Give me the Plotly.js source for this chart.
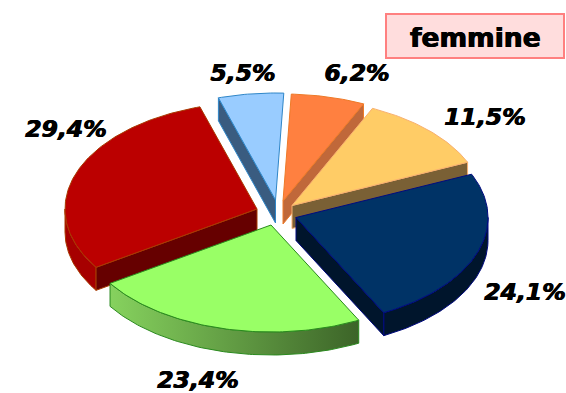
<!DOCTYPE html>
<html><head><meta charset="utf-8">
<script src="https://cdn.plot.ly/plotly-3.0.1.min.js"></script>
<style>html,body{margin:0;padding:0;background:#fff}#c{width:566px;height:393px}</style>
</head><body><div id="c"></div>
<script>
// data, in pie order (clockwise from the start angle)
const values = [5.5, 6.2, 11.5, 24.1, 23.4, 29.4];
const labels = ['5,5%', '6,2%', '11,5%', '24,1%', '23,4%', '29,4%'];
const chartTitle = 'femmine';
// style
const topColors  = ['#99ccff', '#ff8040', '#ffcc66', '#003366', '#99ff66', '#bb0000'];
const edgeColors = ['#2f86c8', '#ee7a28', '#f8b070', '#000a80', '#2a8a1e', '#a83a00'];
const wallColors = ['#3a5c80', '#c0683a', '#7a6035', '#00152c', '#5f9a3f', '#660000'];
const arcColors  = [null, null, null, '#00152c', null, '#a60000'];
const arcGradient = [null, null, null, null, ['#86d25e', '#3c6428'], null];
// layout of the exploded pie, in axis units
const apexX = [275.5, 283, 292, 296, 271, 257];
const apexY = [200, 201, 205.5, 217.5, 225, 209];
const radialWall = ['start', 'end', 'end', 'end', null, 'start'];
const labelX = [243, 357, 485, 525, 198, 66];
const labelY = [75, 75, 119, 294, 382, 131];
const drawOrder = [0, 1, 2, 5, 3, 4];
const rx = 192, ry = 107, depth = 23, startAngle = -17.3;

const total = values.reduce((a, b) => a + b, 0);
const spans = values.map(v => v / total * 360);
const starts = spans.map((_, i) => startAngle + spans.slice(0, i).reduce((a, b) => a + b, 0));
const rad = d => d * Math.PI / 180;
const px = (i, t) => apexX[i] + rx * Math.sin(rad(t));
const py = (i, t) => apexY[i] - ry * Math.cos(rad(t));
function arcAngles(a, b) { const n = Math.max(2, Math.ceil(Math.abs(b - a))); const o = []; for (let k = 0; k <= n; k++) o.push(a + (b - a) * k / n); return o; }

const traces = [];
function poly(x, y, fill, line, extra) {
  traces.push(Object.assign({ type: 'scatter', mode: 'lines', x, y, fill: 'toself', fillcolor: fill,
    line: { color: line, width: 1 }, hoverinfo: 'skip', showlegend: false }, extra || {}));
}
for (const i of drawOrder) {
  const t0 = starts[i], t1 = t0 + spans[i];
  // outer wall: the front part of the rim
  const lo = Math.max(t0, 90), hi = Math.min(t1, 270);
  if (hi > lo && (arcColors[i] || arcGradient[i])) {
    const a = arcAngles(lo, hi);
    const x = a.map(t => px(i, t)).concat(a.slice().reverse().map(t => px(i, t)));
    const y = a.map(t => py(i, t)).concat(a.slice().reverse().map(t => py(i, t) + depth));
    x.push(x[0]); y.push(y[0]);
    const extra = {};
    if (arcGradient[i]) {
      const g = arcGradient[i];
      extra.fillgradient = { type: 'horizontal', colorscale: [[0, g[0]], [1, g[1]]] };
    }
    poly(x, y, arcColors[i] || wallColors[i], edgeColors[i], extra);
  }
  // radial wall
  if (radialWall[i]) {
    const t = radialWall[i] === 'start' ? t0 : t1;
    const ex = px(i, t), ey = py(i, t);
    poly([apexX[i], ex, ex, apexX[i], apexX[i]], [apexY[i], ey, ey + depth, apexY[i] + depth, apexY[i]],
      wallColors[i], edgeColors[i]);
  }
  // top face
  const a = arcAngles(t0, t1);
  poly([apexX[i]].concat(a.map(t => px(i, t)), [apexX[i]]),
       [apexY[i]].concat(a.map(t => py(i, t)), [apexY[i]]), topColors[i], edgeColors[i]);
}
// data labels
const heavy = '0.5px 0 0 #000, -0.5px 0 0 #000';
traces.push({ type: 'scatter', mode: 'text', x: labelX, y: labelY, text: labels, cliponaxis: false,
  textposition: 'middle center', hoverinfo: 'skip', showlegend: false,
  textfont: { family: '"DejaVu Sans", sans-serif', size: 23.5, color: '#000', weight: 700, style: 'italic', shadow: heavy } });

const layout = {
  width: 566, height: 393, margin: { l: 0, r: 0, t: 0, b: 0 }, showlegend: false,
  paper_bgcolor: '#fff', plot_bgcolor: '#fff',
  xaxis: { range: [0, 566], visible: false, fixedrange: true },
  yaxis: { range: [393, 0], visible: false, fixedrange: true },
  shapes: [{ type: 'rect', xref: 'x', yref: 'y', x0: 386, x1: 564, y0: 14, y1: 58,
    fillcolor: '#ffdddd', line: { color: '#ff8080', width: 2 }, layer: 'below' }],
  annotations: [{ x: 475.5, y: 37, xref: 'x', yref: 'y', text: '<b>' + chartTitle + '</b>', showarrow: false,
    xanchor: 'center', yanchor: 'middle', font: { family: '"DejaVu Sans", sans-serif', size: 26.5, color: '#000', shadow: heavy } }]
};
Plotly.newPlot('c', traces, layout, { staticPlot: true, displayModeBar: false });
</script></body></html>
